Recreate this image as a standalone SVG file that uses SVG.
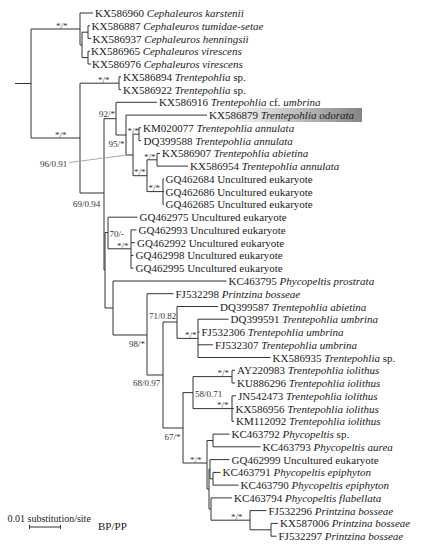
<svg xmlns="http://www.w3.org/2000/svg" width="421" height="550" viewBox="0 0 421 550">
<defs>
<linearGradient id="hl" x1="0" y1="0" x2="1" y2="0">
<stop offset="0" stop-color="#ffffff"/>
<stop offset="0.3" stop-color="#e6e6e6"/>
<stop offset="1" stop-color="#858585"/>
</linearGradient>
</defs>
<style>
.e{stroke:#333;stroke-width:1;fill:none}
.ld{stroke:#aaa;stroke-width:1;fill:none}
.t{font-family:"Liberation Serif","Times New Roman",serif;font-size:11px;fill:#1a1a1a}
.i{font-style:italic}
.s{font-family:"Liberation Serif","Times New Roman",serif;font-size:9px;fill:#333}
</style>
<rect width="421" height="550" fill="#fff"/>
<rect x="205" y="108" width="157" height="14" fill="url(#hl)"/>
<g id="connectors">
<path class="e" d="M15 83.5H31M31 29V138M31 29H80M31 138H80
M80 13V45M80 13H93M80 45H82M82 32.2V57.6M82 32.2H88M82 57.6H88
M88 25.8V38.5M88 25.8H90M88 38.5H91M88 51.3V64M88 51.3H90M88 64H91
M80 83.2V193M80 83.2H119M119 76.8V89.6M119 76.8H121M119 89.6H121M80 193H104
M104 118.7V270M104 118.7H116M104 270H105
M116 102.3V135M116 102.3H157M116 135H126
M126 115.1V155M126 115.1H207M126 155H133
M133 134.2V175.7M133 134.2H139M133 175.7H147
M139 127.8V140.6M139 127.8H141M139 140.6H141
M147 159.8V191.6M147 159.8H157M147 191.6H163
M157 153.4V166.1M157 153.4H160M157 166.1H188
M163 178.9V204.4M163 178.9H164M163 191.6H164M163 204.4H164
M105 232.5V308M105 232.5H108M105 308H113
M108 217.2V248.8M108 217.2H137.5M108 248.8H131
M131 229.9V268.2M131 229.9H136.5M131 242.7H135M131 255.4H133.5M131 268.2H133.5
M113 281V335M113 281H226.5M113 335H147
M147 293.7V375M147 293.7H173.5M147 375H163
M163 322V428M163 322H177M163 428H183
M177 306.5V338.4M177 306.5H218M177 338.4H198
M198 319.2V357.5M198 319.2H228.5M198 332H199.5M198 344.8H213M198 357.5H270.5
M183 392.6V463M183 392.6H193M183 463H207
M193 376.6V408.6M193 376.6H232M193 408.6H232
M232 370.3V383M232 370.3H235M232 383H235
M232 395.8V421.3M232 395.8H236M232 408.6H234M232 421.3H234
M207 440.5V489M207 440.5H213M207 489H209
M213 434.1V446.8M213 434.1H229.5M213 446.8H260.5
M209 469V509M209 469H210M209 509H211
M210 459.6V478.8M210 459.6H229.5M210 478.8H213
M213 472.4V485.1M213 472.4H220.5M213 485.1H238.5
M211 497.9V520.2M211 497.9H232M211 520.2H250
M250 510.6V529.8M250 510.6H266.5M250 529.8H271
M271 523.4V536.2M271 523.4H278M271 536.2H276.5"/>
<path class="ld" d="M69 162.5L127.5 155"/>
</g>
<g id="supports">
<text class="s" x="56" y="28.5">*/*</text>
<text class="s" x="55" y="137.5">*/*</text>
<text class="s" x="98" y="82.5">*/*</text>
<text class="s" x="99" y="116.5">92/*</text>
<text class="s" x="108.5" y="146.5">95/*</text>
<text class="s" x="40" y="166.5">96/0.91</text>
<text class="s" x="127.5" y="133.5">*/*</text>
<text class="s" x="134" y="175">*/*</text>
<text class="s" x="144" y="159.5">*/*</text>
<text class="s" x="148.5" y="191">*/*</text>
<text class="s" x="73" y="206.5">69/0.94</text>
<text class="s" x="109.5" y="236.5">70/-</text>
<text class="s" x="117" y="248.5">*/*</text>
<text class="s" x="129" y="346.5">98/*</text>
<text class="s" x="149" y="319">71/0.82</text>
<text class="s" x="185" y="338">*/*</text>
<text class="s" x="133" y="385.5">68/0.97</text>
<text class="s" x="164.5" y="439.5">67/*</text>
<text class="s" x="195" y="396.5">58/0.71</text>
<text class="s" x="217.5" y="376">*/*</text>
<text class="s" x="217" y="408">*/*</text>
<text class="s" x="190" y="462.5">*/*</text>
<text class="s" x="231" y="520">*/*</text>
</g>
<g id="n1"><text class="t" x="95" y="17">KX586960 <tspan class="i">Cephaleuros karstenii</tspan></text></g>
<g id="n2"><text class="t" x="91.5" y="29.8">KX586887 <tspan class="i">Cephaleuros tumidae-setae</tspan></text></g>
<g id="n3"><text class="t" x="92.5" y="42.5">KX586937 <tspan class="i">Cephaleuros henningsii</tspan></text></g>
<g id="n4"><text class="t" x="91" y="55.3">KX586965 <tspan class="i">Cephaleuros virescens</tspan></text></g>
<g id="n5"><text class="t" x="92" y="68">KX586976 <tspan class="i">Cephaleuros virescens</tspan></text></g>
<g id="n6"><text class="t" x="123" y="80.8">KX586894 <tspan class="i">Trentepohlia</tspan> sp.</text></g>
<g id="n7"><text class="t" x="123" y="93.6">KX586922 <tspan class="i">Trentepohlia</tspan> sp.</text></g>
<g id="n8"><text class="t" x="159" y="106.3">KX586916 <tspan class="i">Trentepohlia</tspan> cf. <tspan class="i">umbrina</tspan></text></g>
<g id="n9"><text class="t" x="209" y="119.1">KX586879 <tspan class="i">Trentepohlia odorata</tspan></text></g>
<g id="n10"><text class="t" x="143" y="131.8">KM020077 <tspan class="i">Trentepohlia annulata</tspan></text></g>
<g id="n11"><text class="t" x="143.5" y="144.6">DQ399588 <tspan class="i">Trentepohlia annulata</tspan></text></g>
<g id="n12"><text class="t" x="162" y="157.4">KX586907 <tspan class="i">Trentepohlia abietina</tspan></text></g>
<g id="n13"><text class="t" x="190" y="170.1">KX586954 <tspan class="i">Trentepohlia annulata</tspan></text></g>
<g id="n14"><text class="t" x="165.5" y="182.9">GQ462684 Uncultured eukaryote</text></g>
<g id="n15"><text class="t" x="165.5" y="195.6">GQ462686 Uncultured eukaryote</text></g>
<g id="n16"><text class="t" x="165.5" y="208.4">GQ462685 Uncultured eukaryote</text></g>
<g id="n17"><text class="t" x="139.5" y="221.2">GQ462975 Uncultured eukaryote</text></g>
<g id="n18"><text class="t" x="138.5" y="233.9">GQ462993 Uncultured eukaryote</text></g>
<g id="n19"><text class="t" x="137" y="246.7">GQ462992 Uncultured eukaryote</text></g>
<g id="n20"><text class="t" x="135.5" y="259.4">GQ462998 Uncultured eukaryote</text></g>
<g id="n21"><text class="t" x="135.5" y="272.2">GQ462995 Uncultured eukaryote</text></g>
<g id="n22"><text class="t" x="228.5" y="285">KC463795 <tspan class="i">Phycopeltis prostrata</tspan></text></g>
<g id="n23"><text class="t" x="175.5" y="297.7">FJ532298 <tspan class="i">Printzina bosseae</tspan></text></g>
<g id="n24"><text class="t" x="220" y="310.5">DQ399587 <tspan class="i">Trentepohlia abietina</tspan></text></g>
<g id="n25"><text class="t" x="230.5" y="323.2">DQ399591 <tspan class="i">Trentepohlia umbrina</tspan></text></g>
<g id="n26"><text class="t" x="201.5" y="336">FJ532306 <tspan class="i">Trentepohlia umbrina</tspan></text></g>
<g id="n27"><text class="t" x="215" y="348.8">FJ532307 <tspan class="i">Trentepohlia umbrina</tspan></text></g>
<g id="n28"><text class="t" x="272.5" y="361.5">KX586935 <tspan class="i">Trentepohlia</tspan> sp.</text></g>
<g id="n29"><text class="t" x="237" y="374.3">AY220983 <tspan class="i">Trentepohlia iolithus</tspan></text></g>
<g id="n30"><text class="t" x="237" y="387">KU886296 <tspan class="i">Trentepohlia iolithus</tspan></text></g>
<g id="n31"><text class="t" x="238" y="399.8">JN542473 <tspan class="i">Trentepohlia iolithus</tspan></text></g>
<g id="n32"><text class="t" x="235.5" y="412.6">KX586956 <tspan class="i">Trentepohlia iolithus</tspan></text></g>
<g id="n33"><text class="t" x="236" y="425.3">KM112092 <tspan class="i">Trentepohlia iolithus</tspan></text></g>
<g id="n34"><text class="t" x="231.5" y="438.1">KC463792 <tspan class="i">Phycopeltis</tspan> sp.</text></g>
<g id="n35"><text class="t" x="262.5" y="450.8">KC463793 <tspan class="i">Phycopeltis aurea</tspan></text></g>
<g id="n36"><text class="t" x="231.5" y="463.6">GQ462999 Uncultured eukaryote</text></g>
<g id="n37"><text class="t" x="222.5" y="476.4">KC463791 <tspan class="i">Phycopeltis epiphyton</tspan></text></g>
<g id="n38"><text class="t" x="240.5" y="489.1">KC463790 <tspan class="i">Phycopeltis epiphyton</tspan></text></g>
<g id="n39"><text class="t" x="234" y="501.9">KC463794 <tspan class="i">Phycopeltis flabellata</tspan></text></g>
<g id="n40"><text class="t" x="268.5" y="514.6">FJ532296 <tspan class="i">Printzina bosseae</tspan></text></g>
<g id="n41"><text class="t" x="280" y="527.4">KX587006 <tspan class="i">Printzina bosseae</tspan></text></g>
<g id="n42"><text class="t" x="278.5" y="540.2">FJ532297 <tspan class="i">Printzina bosseae</tspan></text></g>
<g id="scale">
<text class="t" x="7.5" y="521.5" style="font-size:10px">0.01 substitution/site</text>
<path class="e" d="M29.5 527H60.5M29.5 525V529M60.5 525V529"/>
<text class="t" x="98" y="530">BP/PP</text>
</g>
</svg>
